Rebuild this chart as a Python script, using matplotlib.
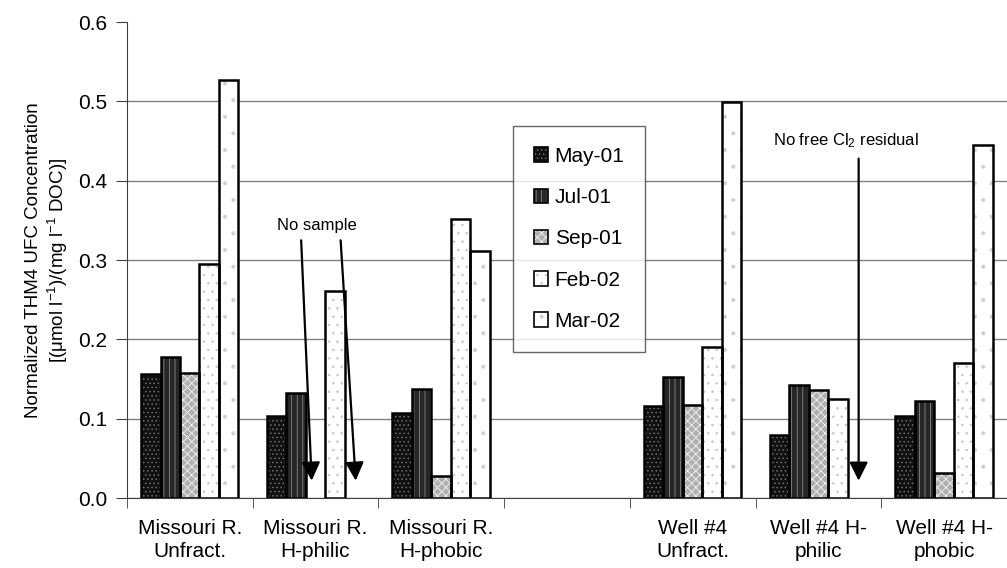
import numpy as np
import matplotlib.pyplot as plt
from matplotlib.patches import Patch

plt.rcParams['font.family'] = ['Liberation Sans', 'DejaVu Sans']
plt.rcParams['mathtext.fontset'] = 'custom'
plt.rcParams['mathtext.rm'] = 'Liberation Sans'
plt.rcParams['mathtext.it'] = 'Liberation Sans:italic'
plt.rcParams['hatch.linewidth'] = 0.5

categories = ["Missouri R.\nUnfract.", "Missouri R.\nH-philic", "Missouri R.\nH-phobic", "",
              "Well #4\nUnfract.", "Well #4 H-\nphilic", "Well #4 H-\nphobic"]
series = ["May-01", "Jul-01", "Sep-01", "Feb-02", "Mar-02"]
nan = np.nan
may01 = [0.157, 0.104, 0.107, nan, 0.116, 0.079, 0.103]
jul01 = [0.178, 0.133, 0.137, nan, 0.153, 0.142, 0.123]
sep01 = [0.158, nan, 0.028, nan, 0.118, 0.136, 0.032]
feb02 = [0.295, 0.261, 0.352, nan, 0.190, 0.125, 0.170]
mar02 = [0.527, nan, 0.311, nan, 0.499, nan, 0.445]
values = [may01, jul01, sep01, feb02, mar02]

# fill colour, hatch colour, hatch pattern
styles = [("#111111", "#7a7a7a", "...."),
          ("#262626", "#9a9a9a", "|||"),
          ("#b0b0b0", "#ffffff", "xxxx"),
          ("#ffffff", "#c4c4c4", ".."),
          ("#ffffff", "#d0d0d0", ".")]

fig = plt.figure(figsize=(10.07, 5.68), dpi=100)
ax = fig.add_axes([0.126, 0.123, 0.874, 0.838])

x = np.arange(len(categories))
w = 0.155
handles = []
for j, (vals, (fc, hc, hatch)) in enumerate(zip(values, styles)):
    pos = x + (j - 2) * w
    ax.bar(pos, vals, w, color=fc, edgecolor=hc, hatch=hatch, linewidth=0, zorder=2)
    ax.bar(pos, vals, w, fill=False, edgecolor="black", linewidth=1.8, zorder=3)
    handles.append((Patch(facecolor=fc, edgecolor=hc, hatch=hatch, linewidth=0),
                    Patch(fill=False, edgecolor="black", linewidth=1.2)))

ax.set_xlim(-0.5, len(categories) - 0.5)
ax.set_ylim(0, 0.6)
ax.set_yticks(np.arange(0, 0.61, 0.1))
ax.set_yticklabels([f"{v:.1f}" for v in np.arange(0, 0.61, 0.1)])
ax.yaxis.grid(True, color="#808080", linewidth=1.0, zorder=0)
ax.set_axisbelow(True)
ax.yaxis.get_gridlines()[-1].set_visible(False)

ax.set_xticks(x)
ax.set_xticklabels(categories, linespacing=1.3)
ax.set_xticks(np.arange(-0.5, len(categories) + 0.5, 1), minor=True)
ax.tick_params(axis="x", which="major", length=0, pad=15, labelsize=15)
ax.tick_params(axis="x", which="minor", length=7, direction="out", color="#404040")
ax.tick_params(axis="y", length=8, direction="out", color="#404040", labelsize=15, pad=6)

for s in ["top", "right"]:
    ax.spines[s].set_visible(False)
for s in ["left", "bottom"]:
    ax.spines[s].set_color("#404040")

ax.set_ylabel("Normalized THM4 UFC Concentration\n[(μmol l$^{-1}$)/(mg l$^{-1}$ DOC)]",
              fontsize=13.5, labelpad=6)

arrow = dict(arrowstyle="-|>", color="black", lw=1.6, mutation_scale=28, shrinkA=0, shrinkB=0)
ax.text(1.01, 0.344, "No sample", ha="center", va="center", fontsize=12, zorder=5)
ax.annotate("", xy=(0.97, 0.022), xytext=(0.886, 0.325), arrowprops=arrow, zorder=5)
ax.annotate("", xy=(1.32, 0.022), xytext=(1.20, 0.325), arrowprops=arrow, zorder=5)
ax.text(5.22, 0.451, "No free Cl$_2$ residual", ha="center", va="center", fontsize=12, zorder=5)
ax.annotate("", xy=(5.32, 0.022), xytext=(5.32, 0.428), arrowprops=arrow, zorder=5)

leg = ax.legend(handles, series, loc="upper left", bbox_to_anchor=(513 / 1007, 1 - 126 / 568),
                bbox_transform=fig.transFigure, fontsize=15, frameon=True, fancybox=False,
                handlelength=0.7, handleheight=0.7, handletextpad=0.3, labelspacing=1.07,
                borderpad=1.0, borderaxespad=0)
leg.get_frame().set_edgecolor("#404040")
leg.get_frame().set_linewidth(1.0)
leg.set_zorder(6)

plt.savefig("out.png", dpi=100)
